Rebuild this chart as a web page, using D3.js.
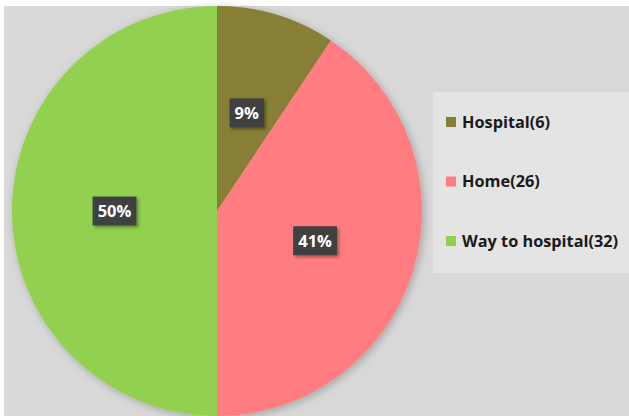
<!DOCTYPE html>
<html><head><meta charset="utf-8">
<script src="https://cdn.jsdelivr.net/npm/d3@7/dist/d3.min.js"></script>
<style>html,body{margin:0;padding:0;background:#fff;}svg{display:block;}</style>
</head><body>
<svg id="c" width="629" height="416"></svg>
<script>
const categories = ["Hospital", "Home", "Way to hospital"];
const values = [6, 26, 32];
const colors = ["#867f35", "#ff7c80", "#92d050"];

const W = 629, H = 416;
const svg = d3.select("#c");
const defs = svg.append("defs");
const sh = defs.append("filter").attr("id","sh").attr("x","-20%").attr("y","-20%").attr("width","140%").attr("height","140%");
sh.append("feDropShadow").attr("dx",2).attr("dy",2).attr("stdDeviation",4).attr("flood-color","#000").attr("flood-opacity",0.25);
const sh2 = defs.append("filter").attr("id","sh2").attr("x","-30%").attr("y","-30%").attr("width","160%").attr("height","160%");
sh2.append("feDropShadow").attr("dx",2).attr("dy",2).attr("stdDeviation",1.5).attr("flood-color","#000").attr("flood-opacity",0.35);

svg.append("rect").attr("x",4).attr("y",6).attr("width",W-4).attr("height",H-6).attr("fill","#d9d9d9");

const cx = 217, cy = 211, R = 205;
const total = d3.sum(values);
const pie = d3.pie().sort(null).value(d => d.v);
const data = pie(categories.map((c,i)=>({c, v: values[i], col: colors[i]})));
const arc = d3.arc().innerRadius(0).outerRadius(R);
const labelArc = d3.arc().innerRadius(R*0.5).outerRadius(R*0.5);

const g = svg.append("g").attr("transform",`translate(${cx},${cy})`);
g.append("g").attr("filter","url(#sh)").selectAll("path").data(data).join("path")
  .attr("d", arc).attr("fill", d => d.data.col);

const lab = g.selectAll("g.lab").data(data).join("g").attr("class","lab")
  .attr("transform", d => `translate(${labelArc.centroid(d)})`);
lab.each(function(d){
  const s = d3.select(this);
  const txt = Math.round(d.data.v/total*100) + "%";
  const t = s.append("text").text(txt).attr("text-anchor","middle").attr("dy","0.36em")
    .attr("font-family","'Open Sans', 'DejaVu Sans', sans-serif").attr("font-weight","bold")
    .attr("font-size",16.5).attr("fill","#fff");
  const bb = t.node().getBBox();
  const w = bb.width + 10, h = 29;
  s.insert("rect","text").attr("x",-w/2).attr("y",-h/2).attr("width",w).attr("height",h)
    .attr("fill","#404040").attr("filter","url(#sh2)");
});

// legend
const lg = svg.append("g");
lg.append("rect").attr("x",433).attr("y",92).attr("width",W-433).attr("height",181).attr("fill","#e4e4e4");
const ly = d3.scalePoint().domain(categories).range([122, 241]);
const items = lg.selectAll("g.it").data(categories).join("g").attr("class","it")
  .attr("transform", d => `translate(446,${ly(d)})`);
items.append("rect").attr("x",0).attr("y",-5).attr("width",10).attr("height",10)
  .attr("fill", (d,i) => colors[i]);
items.append("text").attr("x",16).attr("dy","0.35em")
  .attr("font-family","'Open Sans', 'DejaVu Sans', sans-serif").attr("font-weight","bold")
  .attr("font-size",16.3).attr("fill","#1a1a1a")
  .text((d,i) => `${d}(${values[i]})`);
</script>
</body></html>
